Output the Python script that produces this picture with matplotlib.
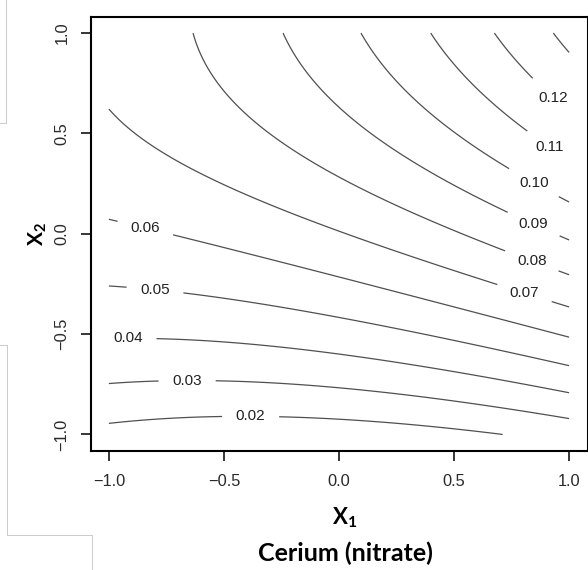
import numpy as np
import matplotlib.pyplot as plt
from matplotlib.lines import Line2D

plt.rcParams['font.family'] = ['Liberation Sans', 'DejaVu Sans']
plt.rcParams['mathtext.fontset'] = 'custom'
plt.rcParams['mathtext.bf'] = 'Lato:bold'
plt.rcParams['mathtext.rm'] = 'Lato'

# contour levels drawn, and the ones that carry a label
levels = [0.02, 0.03, 0.04, 0.05, 0.06, 0.07, 0.08, 0.09, 0.10, 0.11, 0.12, 0.13]
label_levels = [0.02, 0.03, 0.04, 0.05, 0.06, 0.07, 0.08, 0.09, 0.10, 0.11, 0.12]

# points: response level, X1, X2
pt_level = [0.02] * 5 + [0.03] * 5 + [0.04] * 5 + [0.05] * 5 + [0.06] * 5 + \
           [0.07] * 6 + [0.08] * 5 + [0.09] * 4 + [0.10] * 3 + [0.11] * 2 + \
           [0.12] * 2 + [0.13] * 2
pt_x1 = [-1.0, -0.523, -0.241, 0.36, 0.725,
         -1.0, -0.80, -0.52, 0.36, 1.0,
         -0.77, -0.215, 0.0, 0.36, 1.0,
         -1.0, -0.657, -0.215, 0.0, 1.0,
         -1.0, -0.687, -0.215, -0.04, 1.0,
         -1.0, -0.503, -0.215, 0.0, 0.668, 0.974,
         -0.636, -0.215, 0.0, 0.696, 0.988,
         -0.245, 0.0, 0.727, 0.988,
         0.096, 0.731, 0.988,
         0.40, 0.826,
         0.675, 0.870,
         0.925, 1.0]
pt_x2 = [-0.941, -0.909, -0.913, -0.96, -1.003,
         -0.742, -0.734, -0.734, -0.82, -0.916,
         -0.524, -0.573, -0.59, -0.66, -0.79,
         -0.263, -0.30, -0.375, -0.415, -0.657,
         0.06, -0.016, -0.155, -0.213, -0.515,
         0.62, 0.255, 0.105, 0.008, -0.246, -0.357,
         1.0, 0.43, 0.312, -0.071, -0.203,
         1.0, 0.63, 0.112, -0.024,
         1.0, 0.33, 0.163,
         1.0, 0.507,
         1.0, 0.740,
         1.0, 0.907]

# where the labels sit on the lines (X1, X2)
label_pos = [(-0.384, -0.908), (-0.66, -0.733), (-0.917, -0.513),
             (-0.80, -0.283), (-0.835, 0.06), (0.805, -0.30),
             (0.835, -0.144), (0.835, 0.02), (0.835, 0.23),
             (0.905, 0.41), (0.911, 0.65)]

xticks = [-1.0, -0.5, 0.0, 0.5, 1.0]
xtick_labels = ['\u22121.0', '\u22120.5', '0.0', '0.5', '1.0']
yticks = [-1.0, -0.5, 0.0, 0.5, 1.0]
ytick_labels = ['\u22121.0', '\u22120.5', '0.0', '0.5', '1.0']

# second order response surface fitted to the read points
a = np.array(pt_x1)
b = np.array(pt_x2)
A = np.column_stack([np.ones_like(a), a, b, a * b, a ** 2, b ** 2])
coef, *_ = np.linalg.lstsq(A, np.array(pt_level), rcond=None)

g = np.linspace(-1, 1, 201)
X1, X2 = np.meshgrid(g, g)
Z = coef[0] + coef[1] * X1 + coef[2] * X2 + coef[3] * X1 * X2 + \
    coef[4] * X1 ** 2 + coef[5] * X2 ** 2

fig = plt.figure(figsize=(5.88, 5.70), dpi=100)
ax = fig.add_axes([90.5 / 588, 1 - 450.5 / 570, 497 / 588, 433.5 / 570])

cs = ax.contour(X1, X2, Z, levels=levels, colors='#505050', linewidths=0.9)
ax.clabel(cs, label_levels, inline=True, inline_spacing=16, fmt='%.2f',
          fontsize=11, colors='#222222', manual=label_pos)
for t in cs.labelTexts:
    t.set_rotation(0)

ax.set_xlim(-1.08, 1.08)
ax.set_ylim(-1.08, 1.08)
ax.set_xticks(xticks)
ax.set_xticklabels(xtick_labels)
ax.set_yticks(yticks)
ax.set_yticklabels(ytick_labels, rotation=90, va='center')
ax.tick_params(axis='x', length=7.2, width=1.1, pad=10, labelsize=11.8,
               labelcolor='#2a2a2a')
ax.tick_params(axis='y', length=7.2, width=1.1, pad=8, labelsize=11.8,
               labelcolor='#2a2a2a')
for s in ax.spines.values():
    s.set_linewidth(1.5)

fig.text(345 / 588, 1 - 518 / 570, r'$\mathbf{X_1}$', fontsize=16,
         ha='center', va='center')
fig.text(345 / 588, 1 - 553 / 570, 'Cerium (nitrate)', fontsize=18,
         fontweight='bold', family='Lato', ha='center', va='center')
fig.text(38 / 588, 1 - 234 / 570, r'$\mathbf{X_2}$', fontsize=15,
         rotation=90, ha='center', va='center')

# faint frame edges left over from the screenshot
for xs, ys in [([0, 6, 6], [123, 123, 0]),
               ([0, 7, 7, 92, 92], [345, 345, 535, 535, 570])]:
    fig.add_artist(Line2D(np.array(xs) / 588, 1 - np.array(ys) / 570,
                          transform=fig.transFigure, color='#cccccc', lw=0.75))

fig.savefig('out.png', dpi=100)
